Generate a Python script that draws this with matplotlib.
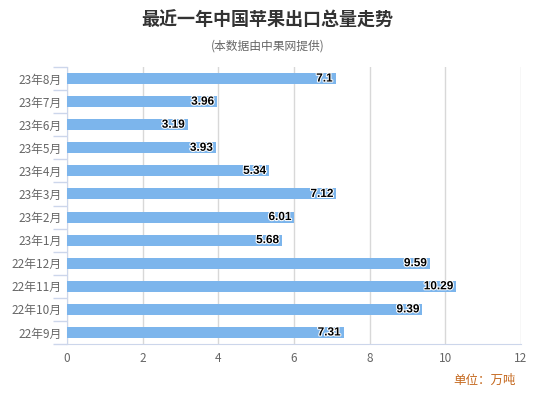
import matplotlib
matplotlib.use('Agg')
import matplotlib.pyplot as plt
import matplotlib.patheffects as pe

plt.rcParams['font.family'] = ['Noto Sans CJK SC', 'DejaVu Sans']

# dados (de cima para baixo)
meses = ['23年8月', '23年7月', '23年6月', '23年5月', '23年4月', '23年3月',
         '23年2月', '23年1月', '22年12月', '22年11月', '22年10月', '22年9月']
valores = [7.1, 3.96, 3.19, 3.93, 5.34, 7.12, 6.01, 5.68, 9.59, 10.29, 9.39, 7.31]
rotulos = ['7.1', '3.96', '3.19', '3.93', '5.34', '7.12', '6.01', '5.68', '9.59', '10.29', '9.39', '7.31']
xticks = [0, 2, 4, 6, 8, 10, 12]

cor_eixo = '#ccd6eb'
cor_grid = '#d8d8d8'

fig = plt.figure(figsize=(5.35, 3.95), dpi=100)
ax = fig.add_axes([67 / 535, 1 - 344 / 395, (521 - 67) / 535, (344 - 67) / 395])

n = len(meses)
pos = list(range(n))
ax.barh(pos, valores, height=0.48, color='#7cb5ec', zorder=3)
ax.set_ylim(n - 0.5, -0.5)
ax.set_xlim(0, 12)

for p, v, r in zip(pos, valores, rotulos):
    ax.text(v - 0.08, p, r, ha='right', va='center', fontsize=8.5, fontweight='bold',
            family='Liberation Sans', color='black', zorder=4,
            path_effects=[pe.withStroke(linewidth=1.5, foreground='white')])

ax.set_xticks(xticks)
ax.set_xticklabels([str(t) for t in xticks], fontsize=8.5, color='#666666')
ax.tick_params(axis='x', length=0, pad=6)
ax.grid(axis='x', color=cor_grid, linewidth=1, zorder=0)

ax.set_yticks(pos)
ax.set_yticklabels(meses, fontsize=8.5, color='#666666')
ax.tick_params(axis='y', length=0, pad=4)
# marcas entre categorias
ax.set_yticks([i - 0.5 for i in range(n + 1)], minor=True)
ax.tick_params(axis='y', which='minor', length=10, color=cor_eixo, width=1)

for lado in ['top', 'right']:
    ax.spines[lado].set_visible(False)
ax.spines['left'].set_color(cor_eixo)
ax.spines['bottom'].set_color(cor_eixo)

fig.text(0.5, 1 - 20 / 395, '最近一年中国苹果出口总量走势', ha='center', va='center',
         fontsize=13, fontweight='bold', color='#333333')
fig.text(0.5, 1 - 46 / 395, '(本数据由中果网提供)', ha='center', va='center',
         fontsize=8.5, color='#666666')
fig.text(516 / 535, 1 - 380 / 395, '单位：万吨', ha='right', va='center',
         fontsize=9, color='#c5691f')

fig.savefig('out.png', dpi=100)
